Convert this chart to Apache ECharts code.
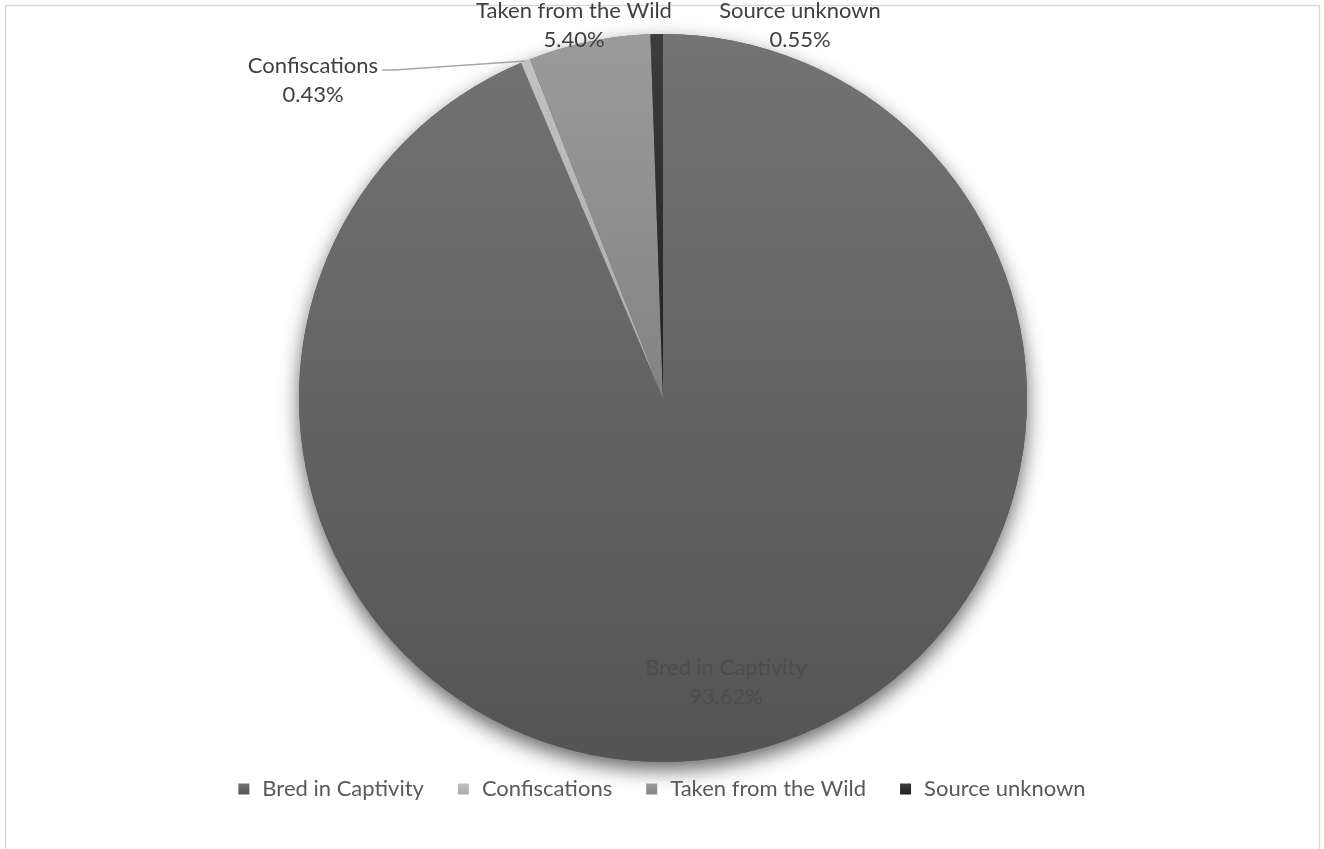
<!DOCTYPE html>
<html>
<head>
<meta charset="utf-8">
<script src="https://cdn.jsdelivr.net/npm/echarts@6/dist/echarts.min.js"></script>
<style>
  html, body { margin: 0; padding: 0; background: #ffffff; }
  #chart { width: 1324px; height: 849px; }
</style>
</head>
<body>
<div id="chart"></div>
<script>
// Source of traded specimens, share of total (%)
const categories = ['Bred in Captivity', 'Confiscations', 'Taken from the Wild', 'Source unknown'];
const shares = [93.62, 0.43, 5.40, 0.55];
// top / bottom shade of each slice's gradient fill
const sliceShades = [
  ['#737373', '#545454'],
  ['#c2c2c2', '#a9a9a9'],
  ['#9b9b9b', '#838383'],
  ['#3d3d3d', '#1f1f1f']
];

const FONT = 'Lato';
const FONT_SIZE = 22;
const CENTER = [663, 398];
const RADIUS = 364;

// label anchors (centre of each two-line label)
const labelAnchors = [[726, 682], [313, 80], [574, 25], [800, 25]];

function grad(pair) {
  return new echarts.graphic.LinearGradient(0, 0, 0, 1, [
    { offset: 0, color: pair[0] },
    { offset: 1, color: pair[1] }
  ]);
}

// mid-angle point on the rim of slice i (pie runs clockwise from 12 o'clock)
function rimPoint(i) {
  const total = shares.reduce((a, b) => a + b, 0);
  let before = 0;
  for (let k = 0; k < i; k++) before += shares[k];
  const frac = (before + shares[i] / 2) / total;
  const a = frac * Math.PI * 2;
  return [CENTER[0] + RADIUS * Math.sin(a), CENTER[1] - RADIUS * Math.cos(a)];
}

const pieData = categories.map((name, i) => ({
  name: name,
  value: shares[i],
  itemStyle: { color: grad(sliceShades[i]) },
  label: i === 0 ? { color: '#4d4d4d' } : { color: '#404040' },
  labelLine: { show: i === 1 }
}));

const chart = echarts.init(document.getElementById('chart'), null, { renderer: 'canvas' });

chart.setOption({
  backgroundColor: '#ffffff',
  animation: false,
  graphic: [{
    type: 'rect',
    shape: { x: 5.5, y: 5.5, width: 1314, height: 860 },
    style: { fill: 'none', stroke: '#d9d9d9', lineWidth: 1.5 },
    silent: true,
    z: 0
  }],
  legend: {
    data: categories,
    top: 773,
    left: 'center',
    icon: 'rect',
    itemWidth: 11,
    itemHeight: 11,
    itemGap: 34,
    textStyle: { color: '#595959', fontFamily: FONT, fontSize: FONT_SIZE, padding: [0, 0, 0, 8] }
  },
  series: [
    {
      // soft drop shadow under the whole pie
      type: 'pie',
      silent: true,
      center: CENTER,
      radius: RADIUS,
      label: { show: false },
      labelLine: { show: false },
      data: [{ name: 'all', value: shares.reduce((a, b) => a + b, 0) }],
      itemStyle: {
        color: '#5e5e5e',
        shadowBlur: 20,
        shadowOffsetY: 8,
        shadowColor: 'rgba(0,0,0,0.6)'
      },
      z: 1
    },
    {
      type: 'pie',
      center: CENTER,
      radius: RADIUS,
      startAngle: 90,
      clockwise: true,
      avoidLabelOverlap: false,
      z: 2,
      data: pieData,
      label: {
        show: true,
        position: 'outside',
        fontFamily: FONT,
        fontSize: FONT_SIZE,
        lineHeight: 29,
        formatter: p => p.name + '\n' + p.value.toFixed(2) + '%'
      },
      labelLine: {
        show: false,
        lineStyle: { color: '#a6a6a6', width: 1.5 }
      },
      labelLayout: function (params) {
        const i = params.dataIndex;
        const a = labelAnchors[i];
        const out = { x: a[0], y: a[1], align: 'center', verticalAlign: 'middle' };
        if (i === 1) {
          const rim = rimPoint(i);
          const lx = a[0] + params.labelRect.width / 2 + 4;
          const ly = a[1] - 10;
          out.labelLinePoints = [rim, [lx + 12, ly], [lx, ly]];
        }
        return out;
      }
    }
  ]
});
</script>
</body>
</html>
